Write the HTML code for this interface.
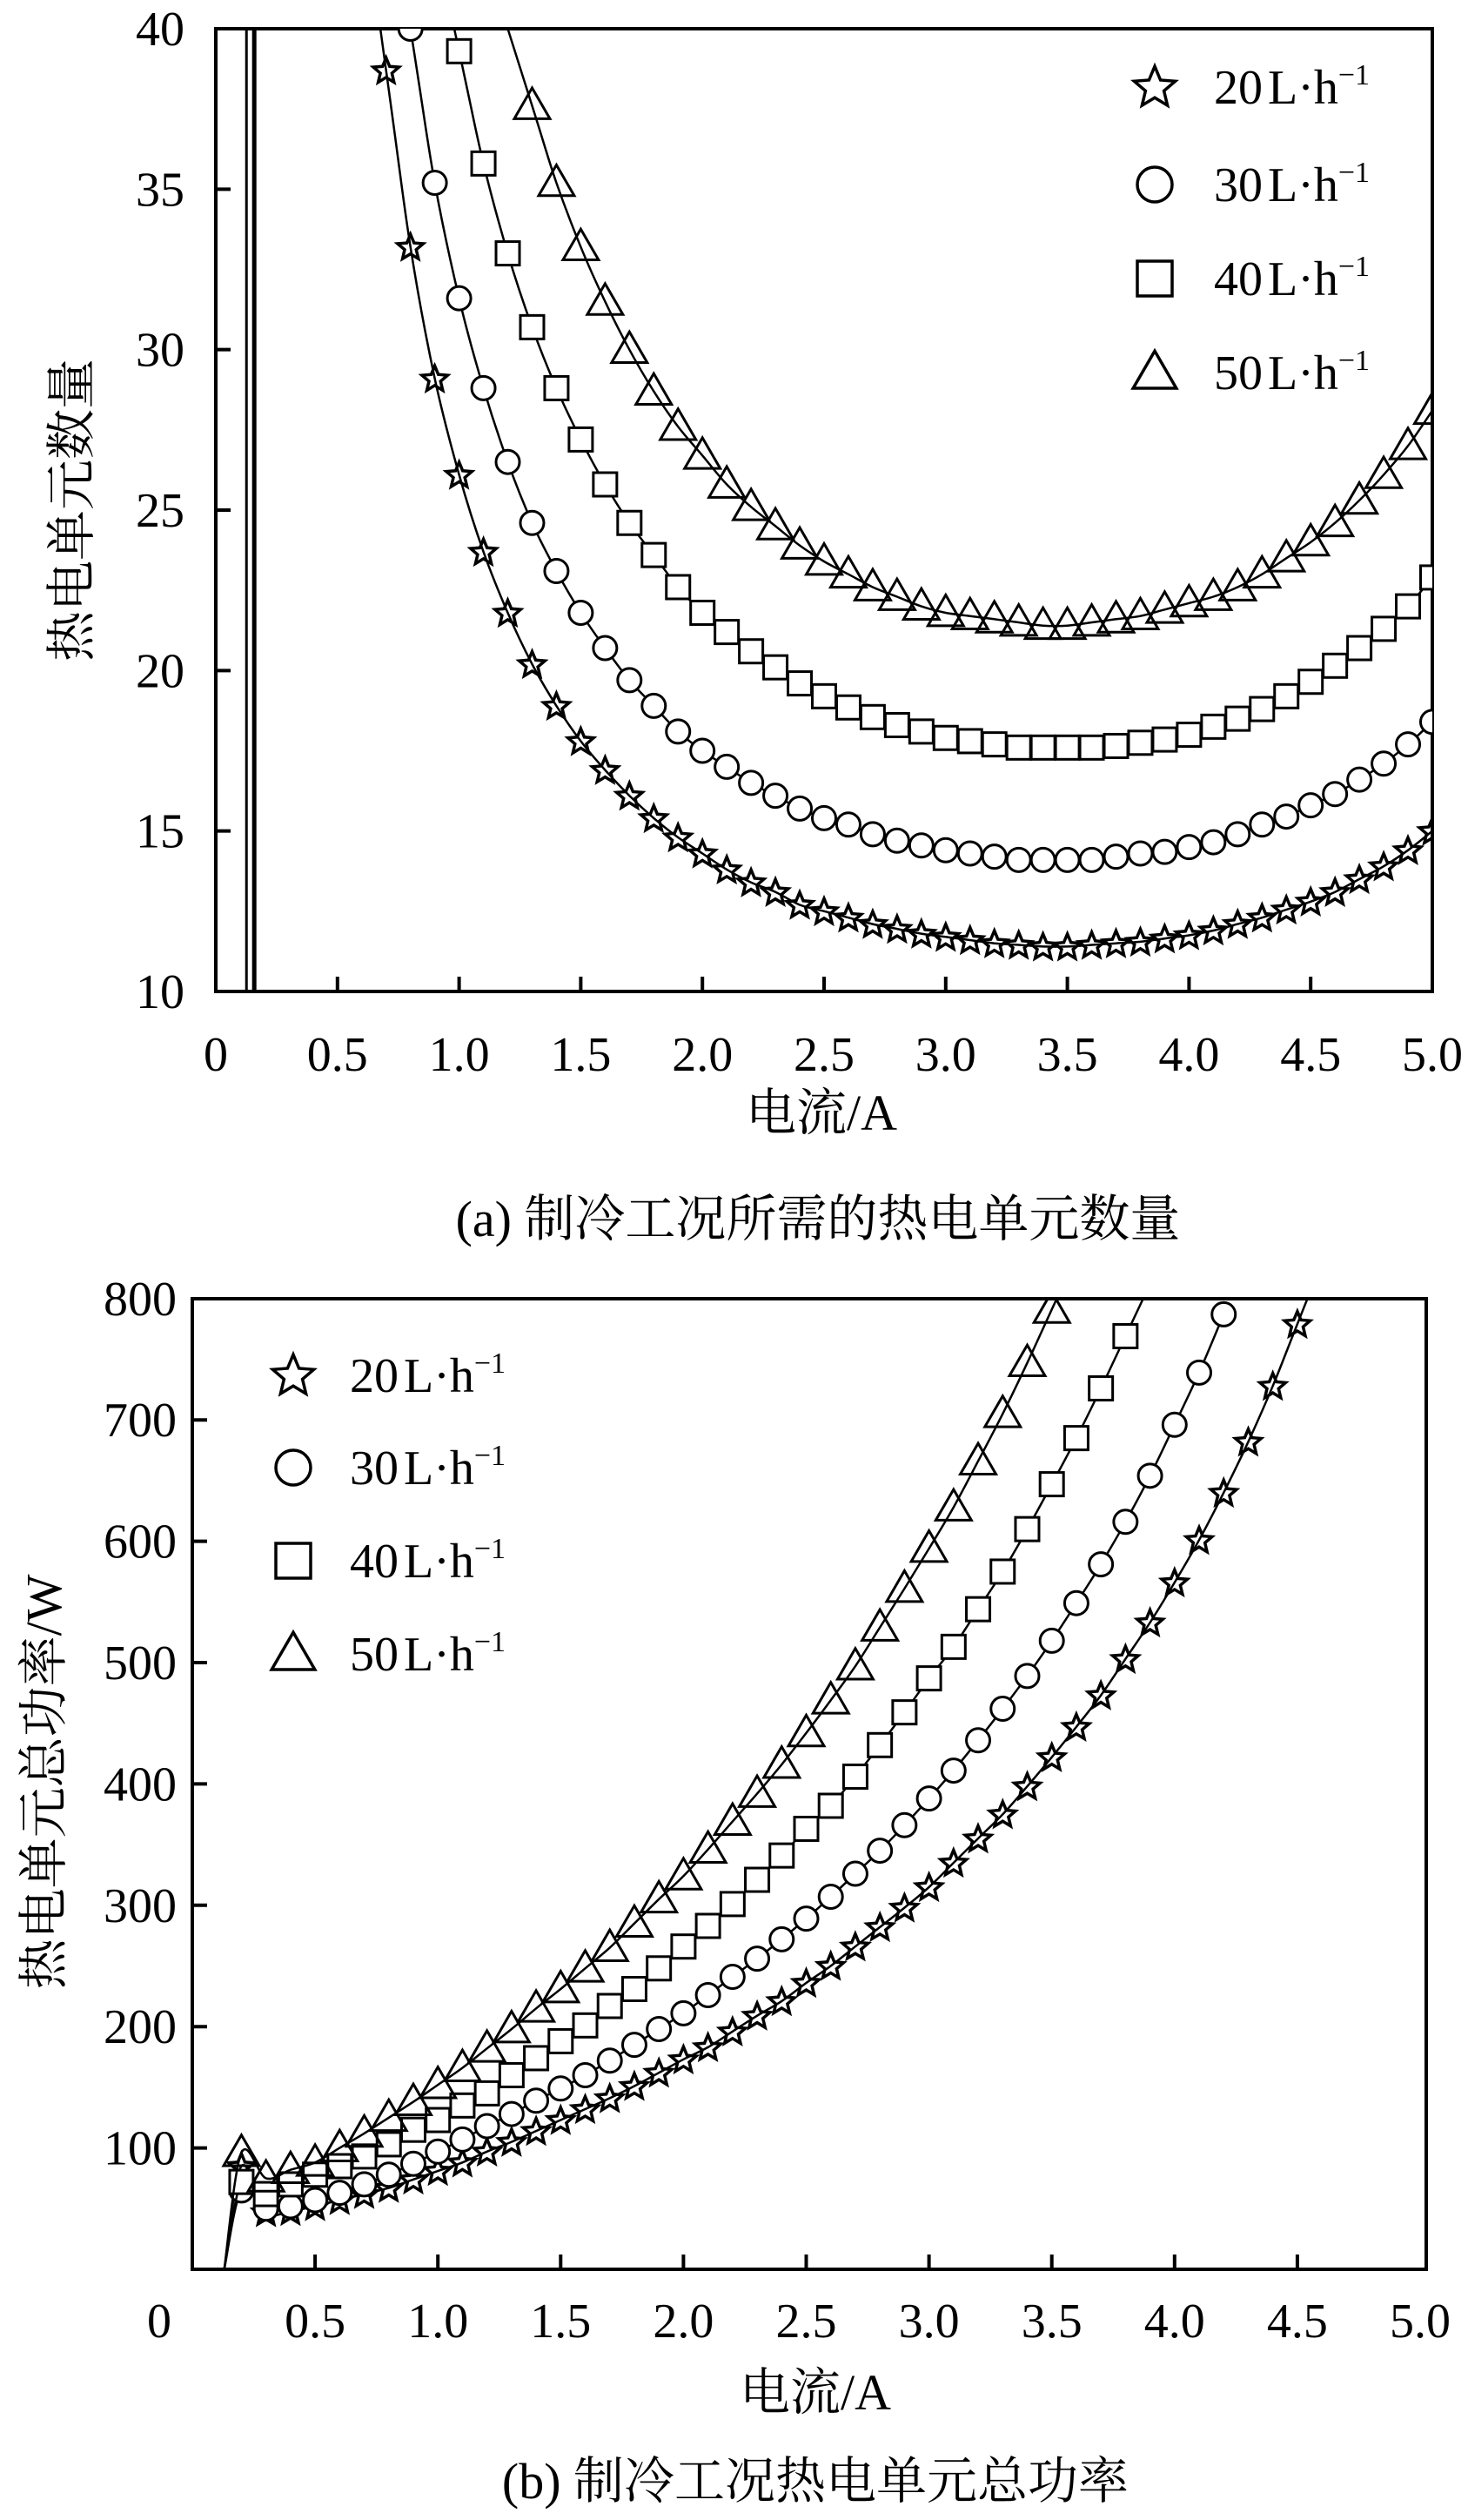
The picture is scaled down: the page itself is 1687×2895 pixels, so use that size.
<!DOCTYPE html>
<html><head><meta charset="utf-8">
<style>
html,body{margin:0;padding:0;background:#fff;}
svg{display:block;}
text{font-family:"Liberation Serif","Noto Serif CJK SC","Noto Sans CJK SC",serif;fill:#000;}
</style></head>
<body>
<svg id="fig" width="1687" height="2895" viewBox="0 0 1687 2895" xmlns="http://www.w3.org/2000/svg">
<defs>
<clipPath id="clipA"><rect x="248" y="33" width="1398" height="1106"/></clipPath>
<clipPath id="clipB"><rect x="221" y="1492" width="1418" height="1117"/></clipPath>
</defs>
<g id="chartA"></g>
<g id="chartB"></g>
</svg>
<script>
// ---------- Chart A data ----------
const aX20 = [0.7,0.8,0.9,1.0,1.1,1.2,1.3,1.4,1.5,1.6,1.7,1.8,1.9,2.0,2.1,2.2,2.3,2.4,2.5,2.6,2.7,2.8,2.9,3.0,3.1,3.2,3.3,3.4,3.5,3.6,3.7,3.8,3.9,4.0,4.1,4.2,4.3,4.4,4.5,4.6,4.7,4.8,4.9,5.0];
const aY20 = [38.7,33.2,29.1,26.1,23.7,21.8,20.2,18.9,17.8,16.9,16.1,15.4,14.8,14.3,13.8,13.4,13.1,12.7,12.5,12.3,12.1,11.95,11.8,11.7,11.6,11.5,11.45,11.4,11.4,11.45,11.5,11.55,11.65,11.75,11.9,12.1,12.3,12.55,12.8,13.1,13.5,13.9,14.4,15.0];
const aX30 = [0.8,0.9,1.0,1.1,1.2,1.3,1.4,1.5,1.6,1.7,1.8,1.9,2.0,2.1,2.2,2.3,2.4,2.5,2.6,2.7,2.8,2.9,3.0,3.1,3.2,3.3,3.4,3.5,3.6,3.7,3.8,3.9,4.0,4.1,4.2,4.3,4.4,4.5,4.6,4.7,4.8,4.9,5.0];
const aY30 = [40,35.2,31.6,28.8,26.5,24.6,23.1,21.8,20.7,19.7,18.9,18.1,17.5,17.0,16.5,16.1,15.7,15.4,15.2,14.9,14.7,14.55,14.4,14.3,14.2,14.1,14.1,14.1,14.1,14.2,14.3,14.35,14.5,14.65,14.9,15.2,15.45,15.8,16.15,16.6,17.1,17.7,18.4];
const aX40 = [1.0,1.1,1.2,1.3,1.4,1.5,1.6,1.7,1.8,1.9,2.0,2.1,2.2,2.3,2.4,2.5,2.6,2.7,2.8,2.9,3.0,3.1,3.2,3.3,3.4,3.5,3.6,3.7,3.8,3.9,4.0,4.1,4.2,4.3,4.4,4.5,4.6,4.7,4.8,4.9,5.0];
const aY40 = [39.3,35.8,33.0,30.7,28.8,27.2,25.8,24.6,23.6,22.6,21.8,21.2,20.6,20.1,19.6,19.2,18.85,18.55,18.3,18.1,17.9,17.8,17.7,17.6,17.6,17.6,17.6,17.65,17.75,17.85,18.0,18.25,18.5,18.8,19.2,19.65,20.15,20.7,21.3,22.0,22.9];
const aX50 = [1.3,1.4,1.5,1.6,1.7,1.8,1.9,2.0,2.1,2.2,2.3,2.4,2.5,2.6,2.7,2.8,2.9,3.0,3.1,3.2,3.3,3.4,3.5,3.6,3.7,3.8,3.9,4.0,4.1,4.2,4.3,4.4,4.5,4.6,4.7,4.8,4.9,5.0];
const aY50 = [37.6,35.2,33.2,31.5,30.0,28.7,27.6,26.7,25.8,25.1,24.5,23.9,23.4,23.0,22.6,22.3,22.0,21.8,21.7,21.6,21.5,21.4,21.4,21.5,21.6,21.7,21.9,22.1,22.3,22.6,23.0,23.5,24.0,24.6,25.3,26.1,27.0,28.1];
const aVerticals = [0.126, 0.158];
const aXTicks = [0,0.5,1.0,1.5,2.0,2.5,3.0,3.5,4.0,4.5,5.0];
const aXTickLabels = ["0","0.5","1.0","1.5","2.0","2.5","3.0","3.5","4.0","4.5","5.0"];
const aYTicks = [10,15,20,25,30,35,40];
// ---------- Chart B data ----------
const bX20 = [0.2,0.3,0.4,0.5,0.6,0.7,0.8,0.9,1.0,1.1,1.2,1.3,1.4,1.5,1.6,1.7,1.8,1.9,2.0,2.1,2.2,2.3,2.4,2.5,2.6,2.7,2.8,2.9,3.0,3.1,3.2,3.3,3.4,3.5,3.6,3.7,3.8,3.9,4.0,4.1,4.2,4.3,4.4,4.5];
const bY20 = [85,47,48,52,57,62,67,74,81,88,97,105,114,123,132,141,151,162,173,183,196,209,221,236,250,266,282,298,315,335,355,375,398,422,447,473,503,533,566,601,640,682,728,779];
const bX30 = [0.2,0.3,0.4,0.5,0.6,0.7,0.8,0.9,1.0,1.1,1.2,1.3,1.4,1.5,1.6,1.7,1.8,1.9,2.0,2.1,2.2,2.3,2.4,2.5,2.6,2.7,2.8,2.9,3.0,3.1,3.2,3.3,3.4,3.5,3.6,3.7,3.8,3.9,4.0,4.1,4.2];
const bY30 = [65,50,52,57,63,70,78,87,97,107,118,128,139,149,160,172,185,198,211,226,241,256,272,289,307,326,345,366,388,411,436,462,489,518,549,581,616,654,696,739,787];
const bX40 = [0.2,0.3,0.4,0.5,0.6,0.7,0.8,0.9,1.0,1.1,1.2,1.3,1.4,1.5,1.6,1.7,1.8,1.9,2.0,2.1,2.2,2.3,2.4,2.5,2.6,2.7,2.8,2.9,3.0,3.1,3.2,3.3,3.4,3.5,3.6,3.7,3.8];
const bY40 = [72,62,70,78,85,93,103,115,123,135,145,160,174,188,201,217,231,248,266,283,301,321,341,363,382,406,432,459,487,513,544,575,610,647,685,726,769];
const bX50 = [0.2,0.3,0.4,0.5,0.6,0.7,0.8,0.9,1.0,1.1,1.2,1.3,1.4,1.5,1.6,1.7,1.8,1.9,2.0,2.1,2.2,2.3,2.4,2.5,2.6,2.7,2.8,2.9,3.0,3.1,3.2,3.3,3.4,3.5];
const bY50 = [96,75,82,88,100,112,125,138,152,166,182,198,215,231,248,265,285,305,324,346,369,392,416,442,469,497,529,561,594,628,666,705,747,791];
const bLineStartX = [0.13];
const bLineStartY = [0];
const bXTicks = [0,0.5,1.0,1.5,2.0,2.5,3.0,3.5,4.0,4.5,5.0];
const bXTickLabels = ["0","0.5","1.0","1.5","2.0","2.5","3.0","3.5","4.0","4.5","5.0"];
const bYTicks = [100,200,300,400,500,600,700,800];
const legendLabels = ["20","30","40","50"];

const NS = "http://www.w3.org/2000/svg";
function mk(tag, attrs, parent){
  const e = document.createElementNS(NS, tag);
  for (const k in attrs) e.setAttribute(k, attrs[k]);
  parent.appendChild(e);
  return e;
}
const axA = {x0:248,x1:1646,y0:1139,y1:33,xmin:0,xmax:5,ymin:10,ymax:40};
const axB = {x0:221,x1:1632,y0:2607,y1:1492,xmin:0,xmax:5,ymin:0,ymax:800};
axB.ymax = (2607-1492)/1.394;
function sx(ax,v){return ax.x0+(v-ax.xmin)/(ax.xmax-ax.xmin)*(ax.x1-ax.x0);}
function sy(ax,v){return ax.y0-(v-ax.ymin)/(ax.ymax-ax.ymin)*(ax.y0-ax.y1);}

function smoothPath(pts){
  if (pts.length<2) return "";
  let d = "M"+pts[0][0].toFixed(1)+","+pts[0][1].toFixed(1);
  for (let i=0;i<pts.length-1;i++){
    const p0=pts[i-1]||pts[i], p1=pts[i], p2=pts[i+1], p3=pts[i+2]||p2;
    const c1=[p1[0]+(p2[0]-p0[0])/6, p1[1]+(p2[1]-p0[1])/6];
    const c2=[p2[0]-(p3[0]-p1[0])/6, p2[1]-(p3[1]-p1[1])/6];
    d+=" C"+c1[0].toFixed(1)+","+c1[1].toFixed(1)+" "+c2[0].toFixed(1)+","+c2[1].toFixed(1)+" "+p2[0].toFixed(1)+","+p2[1].toFixed(1);
  }
  return d;
}
function starPts(cx,cy,r){
  const p=[];
  for(let i=0;i<10;i++){
    const rr = i%2===0 ? r : r*0.45;
    const a = -Math.PI/2 + i*Math.PI/5;
    p.push((cx+rr*Math.cos(a)).toFixed(1)+","+(cy+rr*Math.sin(a)).toFixed(1));
  }
  return p.join(" ");
}
function marker(g, kind, cx, cy, s, sw){
  let e;
  if (kind==="star") e = mk("polygon",{points:starPts(cx,cy+1,s*0.62),fill:"none",stroke:"#000","stroke-width":sw,"stroke-linejoin":"miter"},g);
  else if (kind==="circle") e = mk("circle",{cx:cx,cy:cy,r:s*0.5,fill:"#fff",stroke:"#000","stroke-width":sw},g);
  else if (kind==="square") e = mk("rect",{x:cx-s*0.5,y:cy-s*0.5,width:s,height:s,fill:"#fff",stroke:"#000","stroke-width":sw},g);
  else e = mk("polygon",{points:(cx)+","+(cy-s*0.62)+" "+(cx-s*0.62)+","+(cy+s*0.45)+" "+(cx+s*0.62)+","+(cy+s*0.45),fill:"none",stroke:"#000","stroke-width":sw},g);
  return e;
}
function extend(pts, atStart, atEnd){
  const out = pts.slice();
  if (atStart){ const a=pts[0], b=pts[1]; out.unshift([a[0]+(a[0]-b[0])*3, a[1]+(a[1]-b[1])*3]); }
  if (atEnd){ const a=pts[pts.length-1], b=pts[pts.length-2]; out.push([a[0]+(a[0]-b[0])*3, a[1]+(a[1]-b[1])*3]); }
  return out;
}

function drawFrame(g, ax, xt, xtl, yt, ylabelX, xlabY){
  const fr = mk("rect",{x:ax.x0,y:ax.y1,width:(axA===ax?1646:1639)-ax.x0,height:ax.y0-ax.y1,fill:"none",stroke:"#000","stroke-width":4},g);
  
  
  xt.forEach((v,i)=>{
    const x=sx(ax,v);
    if (i>0 && i<xt.length-1){
      const t=mk("line",{x1:x,y1:ax.y0,x2:x,y2:ax.y0-17,stroke:"#000","stroke-width":4},g);
      
      
    }
    const lx = (i===0 && ax===axB) ? x-38 : x;
    const tl=mk("text",{x:lx,y:xlabY,"font-size":56,"text-anchor":"middle"},g);
    tl.textContent=xtl[i];
    
    
  });
  yt.forEach((v)=>{
    const y=sy(ax,v);
    if (v!==ax.ymin && y>ax.y1+5){
      const t=mk("line",{x1:ax.x0,y1:y,x2:ax.x0+17,y2:y,stroke:"#000","stroke-width":4},g);
      
      
    }
    const tl=mk("text",{x:ylabelX,y:y+19,"font-size":56,"text-anchor":"end"},g);
    tl.textContent=String(v);
    
    
  });
}

function drawSeries(g, ax, xs, ys, kind, clipId, extStart, extEnd, prefix, size, sw){
  let pts = xs.map((x,i)=>[sx(ax,x), sy(ax,ys[i])]);
  if (prefix) pts = prefix.concat(pts);
  const lp = extend(pts, extStart, extEnd);
  const sg = mk("g",{"clip-path":"url(#"+clipId+")"},g);
  
  
  const path = mk("path",{d:smoothPath(lp),fill:"none",stroke:"#000","stroke-width":2.5},sg);
  
  
  xs.forEach((x,i)=>{
    const m = marker(sg, kind, sx(ax,x), sy(ax,ys[i]), size, sw);
    
    
  });
}

function legend(g, x, ys, tx, kinds){
  kinds.forEach((k,i)=>{
    const m = marker(g, k, x, ys[i], 40, 3.5);
    
    
    const t = mk("text",{x:tx,y:ys[i]+19,"font-size":56},g);
    
    
    t.innerHTML = legendLabels[i]+"<tspan dx='6'>L</tspan>·h<tspan font-size='34' dy='-22'>−1</tspan>";
  });
}

// ---- Chart A ----
const gA = document.getElementById("chartA");
drawFrame(gA, axA, aXTicks, aXTickLabels, aYTicks, 212, 1230);
aVerticals.forEach(v=>{
  const l = mk("line",{x1:sx(axA,v),y1:axA.y1,x2:sx(axA,v),y2:axA.y0,stroke:"#000","stroke-width":v>0.14?5:3},gA);
  
  
});
drawSeries(gA, axA, aX20, aY20, "star", "clipA", true, false, null, 25, 3.5);
drawSeries(gA, axA, aX30, aY30, "circle", "clipA", true, false, null, 27, 3);
drawSeries(gA, axA, aX40, aY40, "square", "clipA", true, false, null, 27, 3);
drawSeries(gA, axA, aX50, aY50, "triangle", "clipA", true, false, null, 33, 3);
legend(gA, 1327, [100, 212, 320, 428], 1395, ["star","circle","square","triangle"]);
let t;
t = mk("text",{x:944,y:1298,"font-size":58,"text-anchor":"middle"},gA);
t.textContent="电流/A";


t = mk("text",{x:0,y:0,"font-size":58,"text-anchor":"middle",transform:"translate(102,586) rotate(-90)"},gA);
t.textContent="热电单元数量";


t = mk("text",{x:940,y:1420,"font-size":58,"text-anchor":"middle"},gA);
t.textContent="(a) 制冷工况所需的热电单元数量";



// ---- Chart B ----
const gB = document.getElementById("chartB");
drawFrame(gB, axB, bXTicks, bXTickLabels, bYTicks, 203, 2685);
const bPrefix = [[sx(axB,bLineStartX[0]), sy(axB,bLineStartY[0])]];
drawSeries(gB, axB, bX20, bY20, "star", "clipB", false, true, bPrefix, 25, 3.5);
drawSeries(gB, axB, bX30, bY30, "circle", "clipB", false, false, bPrefix, 27, 3);
drawSeries(gB, axB, bX40, bY40, "square", "clipB", false, true, bPrefix, 27, 3);
drawSeries(gB, axB, bX50, bY50, "triangle", "clipB", false, true, bPrefix, 33, 3);
legend(gB, 337, [1580, 1686, 1793, 1900], 402, ["star","circle","square","triangle"]);
t = mk("text",{x:937,y:2768,"font-size":58,"text-anchor":"middle"},gB);
t.textContent="电流/A";


t = mk("text",{x:0,y:0,"font-size":58,"text-anchor":"middle",transform:"translate(70,2047) rotate(-90)"},gB);
t.textContent="热电单元总功率/W";


t = mk("text",{x:937,y:2870,"font-size":58,"text-anchor":"middle"},gB);
t.textContent="(b) 制冷工况热电单元总功率";


</script>
</body></html>
